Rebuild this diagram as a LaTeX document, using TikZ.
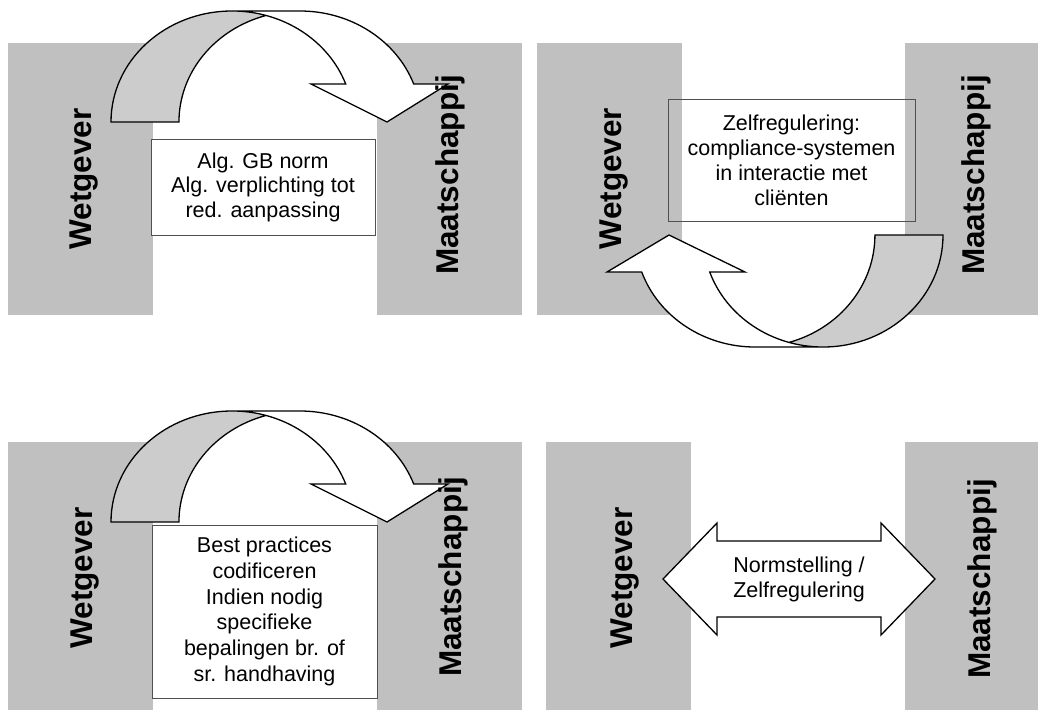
\documentclass[tikz,border=0pt]{standalone}
\usepackage{fontspec}
\setmainfont{Liberation Sans}
\definecolor{rectgray}{RGB}{192,192,192}
\definecolor{bandgray}{RGB}{204,204,204}
\definecolor{boxgray}{RGB}{80,80,80}
\newcommand\capArrowDown{%
  \fill[bandfront] (345.7,84) arc[start angle=340,end angle=270,rA] -- (300,11)
    arc[start angle=270,end angle=340,rA] -- (448,84) -- (387,122) -- (311,84) -- cycle;
  \fill[bandback] (111,122) arc[start angle=180,end angle=286.3,rA]
    arc[start angle=253.7,end angle=180,rA] -- cycle;
  \draw[outline] (266,15.46) arc[start angle=253.7,end angle=180,rA] -- (111,122)
    arc[start angle=180,end angle=270,rA] -- (300,11)
    arc[start angle=270,end angle=340,rA] -- (448,84) -- (387,122) -- (311,84) -- (345.7,84)
    arc[start angle=340,end angle=270,rA];
}
\begin{document}
\begin{tikzpicture}[x=1pt,y=-1pt,
  panel/.style={fill=rectgray,draw=none},
  bandfront/.style={fill=white},
  bandback/.style={fill=bandgray},
  outline/.style={draw=black,line width=1.3pt,line join=miter},
  rA/.style={x radius=121,y radius=111},
  rB/.style={x radius=120,y radius=112},
  textbox/.style={draw=boxgray,line width=1pt,inner sep=0pt,align=center},
  boxfont/.style={font=\fontsize{21.5}{#1}\selectfont},
  wlabel/.style={rotate=90,anchor=base,inner sep=0pt,font=\fontsize{31.5}{36}\selectfont\bfseries},
]
\useasboundingbox (0,0) rectangle (1038,710);

% gray panels
\fill[panel] (8,43) rectangle (153,315);
\fill[panel] (377,43) rectangle (522,315);
\fill[panel] (537,43) rectangle (682,315);
\fill[panel] (905,43) rectangle (1038,315);
\fill[panel] (8,442) rectangle (153,710);
\fill[panel] (377,442) rectangle (522,710);
\fill[panel] (546,442) rectangle (691,710);
\fill[panel] (905,442) rectangle (1038,710);

% top-left curved arrow
\capArrowDown
% bottom-left curved arrow
\begin{scope}[shift={(0,400)}]
\capArrowDown
\end{scope}

% top-right curved arrow (pointing up at left)
\fill[bandfront] (709.7,272) arc[start angle=160.7,end angle=90,rB] -- (755,347)
  arc[start angle=90,end angle=160.7,rB] -- (607,272) -- (669,235) -- (745,272) -- cycle;
\fill[bandback] (943,235) arc[start angle=0,end angle=106.5,rB]
  arc[start angle=73.5,end angle=0,rB] -- cycle;
\draw[outline] (789,342.4) arc[start angle=73.5,end angle=0,rB] -- (943,235)
  arc[start angle=0,end angle=90,rB] -- (755,347)
  arc[start angle=90,end angle=160.7,rB] -- (607,272) -- (669,235) -- (745,272) -- (709.7,272)
  arc[start angle=160.7,end angle=90,rB];

% bottom-right double arrow
\draw[outline,fill=white] (663,579) -- (717,523) -- (717,541) -- (881,541) -- (881,523)
  -- (935,579) -- (881,635) -- (881,617) -- (717,617) -- (717,635) -- cycle;

% text boxes
\node[textbox,fill=white,boxfont=24.5,minimum width=224pt,minimum height=96pt] (box1) at (263,187)
  {Alg. GB norm\\Alg. verplichting tot\\red. aanpassing};
\node[textbox,boxfont=25,minimum width=247pt,minimum height=122pt] (box2) at (791.5,160)
  {Zelfregulering:\\compliance-systemen\\in interactie met\\cliënten};
\node[textbox,fill=white,boxfont=25.7,minimum width=225pt,minimum height=173pt] (box3) at (264.5,611.5)
  {Best practices\\codificeren\\Indien nodig\\specifieke\\bepalingen br. of\\sr. handhaving};
\node[inner sep=0pt,align=center,boxfont=25] (box4) at (799,579) {Normstelling /\\Zelfregulering};

% rotated labels
\node[wlabel] (w1) at (91,179) {Wetgever};
\node[wlabel] (m1) at (458,175) {Maatschappij};
\node[wlabel] (w2) at (621,178.5) {Wetgever};
\node[wlabel] (m2) at (984,175) {Maatschappij};
\node[wlabel] (w3) at (92,578) {Wetgever};
\node[wlabel] (m3) at (461,577) {Maatschappij};
\node[wlabel] (w4) at (632,578) {Wetgever};
\node[wlabel] (m4) at (990,579) {Maatschappij};
\end{tikzpicture}
\end{document}
